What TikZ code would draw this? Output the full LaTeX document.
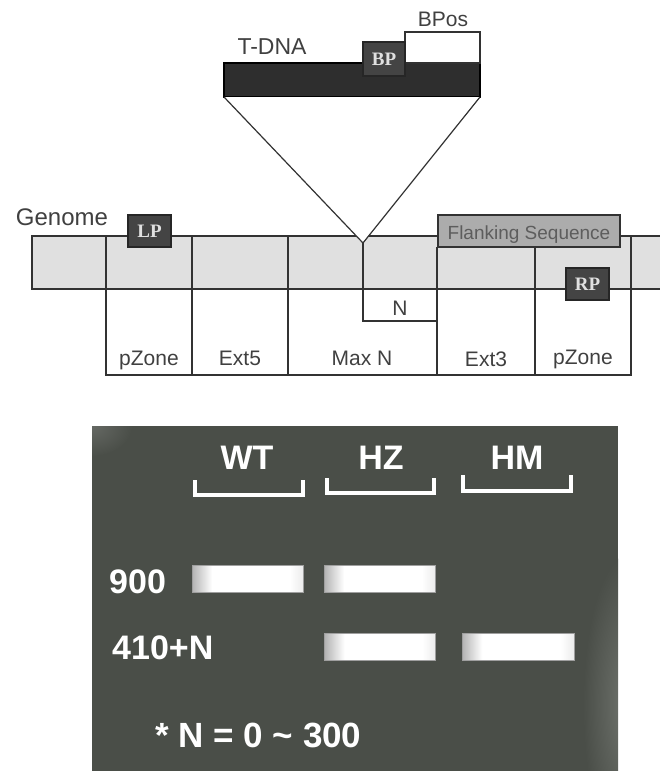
\documentclass[tikz,border=0pt]{standalone}
\usepackage{fontspec}
\setmainfont{Liberation Sans}
\newfontfamily\probefont{Liberation Serif}
\definecolor{linegray}{RGB}{50,50,50}
\definecolor{bandgray}{RGB}{224,224,224}
\definecolor{flankgray}{RGB}{172,172,172}
\definecolor{dnadark}{RGB}{46,46,46}
\definecolor{probedark}{RGB}{68,68,68}
\definecolor{textgray}{RGB}{64,64,64}
\definecolor{gelgreen}{RGB}{74,78,72}
\definecolor{gelpale}{RGB}{112,116,110}
\pgfdeclarehorizontalshading{bandshade}{100bp}{color(0bp)=(gray!60);
    color(25bp)=(gray!60); color(34bp)=(white); color(69bp)=(white);
    color(75bp)=(gray!15); color(100bp)=(gray!15)}
\tikzset{
    zoneline/.style={line width=1.6pt, linegray},
    % dark primer boxes
    probe/.style={
        draw=black!85, fill=probedark, line width=1.2pt,
        minimum width=43pt, minimum height=32pt, inner sep=0pt,
        text=white!88!black,
        font=\probefont\bfseries\fontsize{19}{19}\selectfont
    },
    zonelabel/.style={anchor=base, inner sep=0pt, text=textgray,
        font=\fontsize{21}{21}\selectfont},
    gellabel/.style={inner sep=0pt, text=white,
        font=\bfseries\fontsize{34}{34}\selectfont},
    bracket/.style={white, line width=3.5pt},
    gelband/.style={
        draw=gray!75, line width=0.8pt, shading=bandshade,
        minimum width=111pt, minimum height=27pt, inner sep=0pt
    }
}
\begin{document}
\begin{tikzpicture}[x=1pt,y=-1pt]
    \useasboundingbox (0,0) rectangle (660,771);
    \path
    (224,97) coordinate (tl) (480,97) coordinate (tr)
    (363,243) coordinate (ins) (363,321) coordinate (nc)
    (437,321) coordinate (nr);
    % T-DNA
    \draw[line width=1.2pt, black, fill=dnadark] (224,63) rectangle (480,97);
    \draw[line width=1.2pt, linegray, fill=white] (405,32) rectangle (480,63);
    \node[probe, minimum width=42pt, minimum height=34pt] (bp) at (384,59) {BP};
    \node[anchor=base, text=textgray, font=\fontsize{23}{23}\selectfont] (tdna) at (272,54) {T-DNA};
    \node[zonelabel] (bpos) at (443,27) {BPos};
    % genome
    \fill[bandgray] (32,236) rectangle (662,289);
    \draw[zoneline] (662,236) -- (32,236) -- (32,289) -- (662,289);
    \fill[white] (tl) -- (ins) -- (tr) -- cycle;
    \draw[line width=1.2pt, linegray] (tl) -- (ins) -- (tr);
    \draw[zoneline] (106,236) -- (106,375) -- (631,375) -- (631,236);
    \draw[zoneline] (192,236) -- (192,375);
    \draw[zoneline] (288,236) -- (288,375);
    \draw[zoneline] (437,247) -- (437,375);
    \draw[zoneline] (535,247) -- (535,375);
    \draw[zoneline] (ins) -- (nc) -- (nr);
    \node[draw=linegray, line width=1.6pt, fill=flankgray, minimum width=182pt,
        minimum height=32pt, inner sep=0pt] (flank) at (529,231) {};
    \node[anchor=base, inner sep=0pt, text=textgray!85!white,
        font=\fontsize{19}{19}\selectfont] at (529,239) {Flanking Sequence};
    \node[probe] (lp) at (149.5,231) {LP};
    \node[probe] (rp) at (587.5,284) {RP};
    \node[anchor=base, text=textgray, font=\fontsize{24}{24}\selectfont] (genome) at (62,225) {Genome};
    \node[zonelabel] (zn) at (400,315) {N};
    \node[zonelabel] (pz1) at (149,365) {pZone};
    \node[zonelabel] (ext5) at (240,365) {Ext5};
    \node[zonelabel] (maxn) at (362,365) {Max N};
    \node[zonelabel] (ext3) at (486,366) {Ext3};
    \node[zonelabel] (pz2) at (583,364) {pZone};
    % gel
    \fill[gelgreen] (92,426) rectangle (618,771);
    \begin{scope}
        \clip (92,426) rectangle (618,771);
        \shade[inner color=gelpale, outer color=gelgreen] (628,705) ellipse (45 and 150);
        \shade[inner color=gelgreen!85!white, outer color=gelgreen] (92,426) ellipse (40 and 30);
    \end{scope}
    \node[gellabel] (wt) at (247,458) {WT};
    \node[gellabel] (hz) at (381,458) {HZ};
    \node[gellabel] (hm) at (517,458) {HM};
    \draw[bracket] (195,480) -- (195,495) -- (303,495) -- (303,480);
    \draw[bracket] (327,478) -- (327,493) -- (434,493) -- (434,478);
    \draw[bracket] (463,475) -- (463,491) -- (571,491) -- (571,475);
    \node[gellabel, anchor=west] (nine) at (109,582) {900};
    \node[gellabel, anchor=west] (four) at (112,648) {410+N};
    \node[gelband] (wtnine) at (247.5,578.5) {};
    \node[gelband] (hznine) at (379.5,578.5) {};
    \node[gelband] (hzfour) at (380,646.5) {};
    \node[gelband, minimum width=112pt] (hmfour) at (518,646.5) {};
    \node[gellabel, anchor=west, font=\bfseries\fontsize{35}{35}\selectfont] (note) at (155,735) {* N = 0 \char`\~{} 300};
\end{tikzpicture}
\end{document}
